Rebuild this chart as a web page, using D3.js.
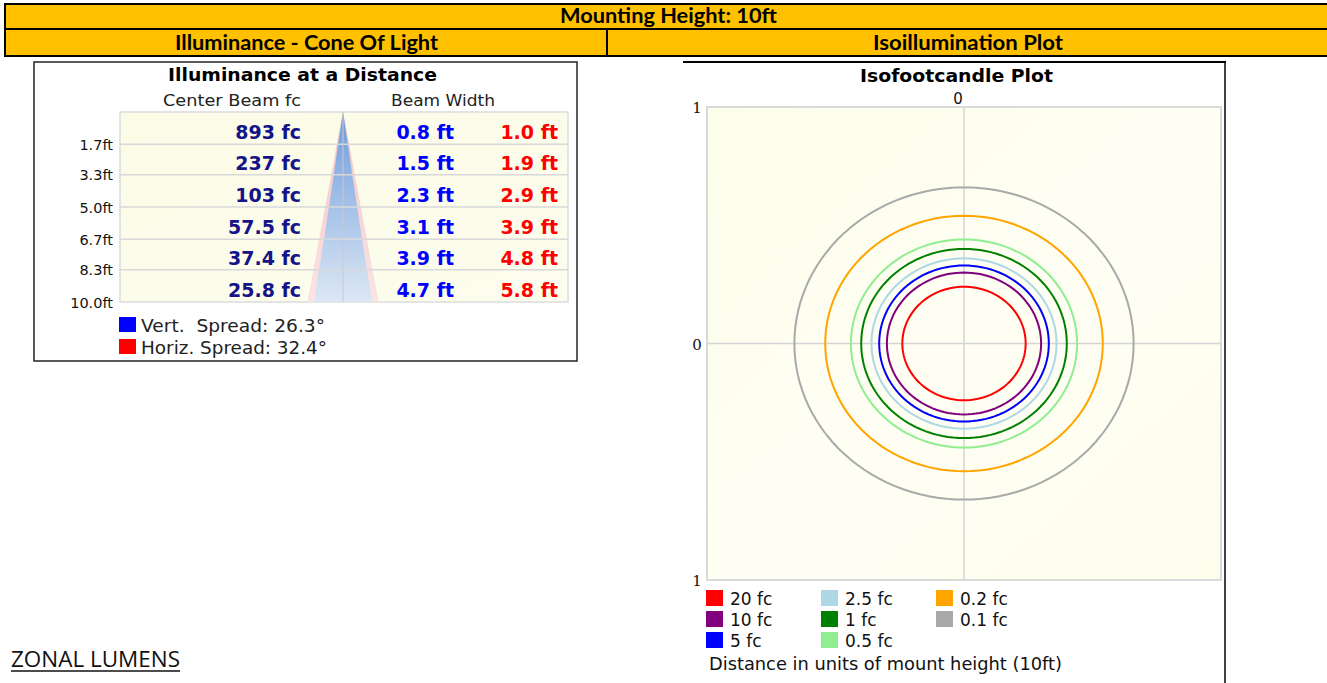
<!DOCTYPE html>
<html><head><meta charset="utf-8">
<script src="https://cdn.jsdelivr.net/npm/d3@7"></script>
<style>
html,body{margin:0;padding:0;background:#fff;overflow:hidden;}
svg{display:block;}
text{white-space:pre;}
</style></head>
<body>
<svg id="c" width="1327" height="683"></svg>
<script>
// ---------- DATA ----------
const headerTitle = "Mounting Height: 10ft";
const sectionTitles = ["Illuminance - Cone Of Light", "Isoillumination Plot"];

const distances = [1.7, 3.3, 5.0, 6.7, 8.3, 10.0];          // ft
const centerBeamFc = [893, 237, 103, 57.5, 37.4, 25.8];      // fc
const vertWidth = [0.8, 1.5, 2.3, 3.1, 3.9, 4.7];            // ft
const horizWidth = [1.0, 1.9, 2.9, 3.9, 4.8, 5.8];           // ft
const spreadLabels = ["Vert.  Spread: 26.3°", "Horiz. Spread: 32.4°"];
const spreadColors = ["#0000ff", "#ff0000"];

const isoLevels = ["20 fc", "10 fc", "5 fc", "2.5 fc", "1 fc", "0.5 fc", "0.2 fc", "0.1 fc"];
const isoRadii  = [0.24, 0.30, 0.33, 0.36, 0.40, 0.44, 0.54, 0.66];   // units of mount height
const isoColors = ["#ff0000", "#800080", "#0000ff", "#add8e6", "#008000", "#90ee90", "#ffa500", "#a9a9a9"];
const isoTicks = [1, 0, -1];

// ---------- DRAW ----------
const svg = d3.select("#c");
const defs = svg.append("defs");
const UI = "'DejaVu Sans', Verdana, sans-serif";
const HDR = "Lato, 'Open Sans', sans-serif";

// Header bars
const gold = "#ffc000";
svg.append("rect").attr("x",5).attr("y",4).attr("width",1330).attr("height",25)
  .attr("fill",gold).attr("stroke","#000").attr("stroke-width",2);
svg.append("rect").attr("x",5).attr("y",29).attr("width",602).attr("height",27)
  .attr("fill",gold).attr("stroke","#000").attr("stroke-width",2);
svg.append("rect").attr("x",607).attr("y",29).attr("width",730).attr("height",27)
  .attr("fill",gold).attr("stroke","#000").attr("stroke-width",2);
svg.append("text").attr("x",560).attr("y",22.5)
  .attr("font-family",HDR).attr("font-weight","bold").attr("font-size",21)
  .attr("textLength",217).attr("lengthAdjust","spacingAndGlyphs").text(headerTitle);
const secPos = [[175,263],[873,190]];
svg.selectAll("text.sec").data(sectionTitles).join("text").attr("class","sec")
  .attr("x",(d,i)=>secPos[i][0]).attr("y",49.5)
  .attr("textLength",(d,i)=>secPos[i][1]).attr("lengthAdjust","spacingAndGlyphs")
  .attr("font-family",HDR).attr("font-weight","bold").attr("font-size",21).text(d=>d);

// ---------- LEFT: Illuminance at a Distance ----------
const L = svg.append("g");
L.append("rect").attr("x",34).attr("y",62).attr("width",543).attr("height",299)
  .attr("fill","#fff").attr("stroke","#222").attr("stroke-width",1.5);
L.append("text").attr("x",168).attr("y",81)
  .attr("textLength",269).attr("lengthAdjust","spacingAndGlyphs")
  .attr("font-family",UI).attr("font-weight","bold").attr("font-size",17.5).text("Illuminance at a Distance");
L.append("text").attr("x",163).attr("y",106)
  .attr("textLength",138).attr("lengthAdjust","spacingAndGlyphs")
  .attr("font-family",UI).attr("font-size",16.5).attr("fill","#222").text("Center Beam fc");
L.append("text").attr("x",391).attr("y",106)
  .attr("textLength",104).attr("lengthAdjust","spacingAndGlyphs")
  .attr("font-family",UI).attr("font-size",16.5).attr("fill","#222").text("Beam Width");

const gx0 = 120, gx1 = 568, coneCx = 343;
const yD = d3.scaleLinear().domain([0, 10]).range([112, 302]);
const wScale = d3.scaleLinear().domain([0, 1]).range([0, 12.3]); // px per ft of half width

const gridGrad = defs.append("linearGradient").attr("id","gridBg").attr("x1",0).attr("y1",0).attr("x2",1).attr("y2",1);
gridGrad.append("stop").attr("offset","0%").attr("stop-color","#fbfbe6");
gridGrad.append("stop").attr("offset","100%").attr("stop-color","#fdfdef");
L.append("rect").attr("x",gx0).attr("y",yD(0)).attr("width",gx1-gx0).attr("height",yD(10)-yD(0))
  .attr("fill","url(#gridBg)").attr("stroke","#dcdcdc").attr("stroke-width",1.5);

// cone
const coneData = [{d:0, v:0, h:0}].concat(distances.map((d,i)=>({d, v:vertWidth[i], h:horizWidth[i]})));
const pinkGrad = defs.append("linearGradient").attr("id","pinkG").attr("x1",0).attr("y1",0).attr("x2",0).attr("y2",1);
pinkGrad.append("stop").attr("offset","0%").attr("stop-color","#f4c4c8");
pinkGrad.append("stop").attr("offset","100%").attr("stop-color","#fbe4e4");
const blueGrad = defs.append("linearGradient").attr("id","blueG").attr("x1",0).attr("y1",0).attr("x2",0).attr("y2",1);
blueGrad.append("stop").attr("offset","0%").attr("stop-color","#6c9cdc");
blueGrad.append("stop").attr("offset","100%").attr("stop-color","#dde7f4");
const coneArea = key => d3.area()
  .y(d=>yD(d.d))
  .x0(d=>coneCx - wScale(d[key]/2))
  .x1(d=>coneCx + wScale(d[key]/2));
L.append("path").datum(coneData).attr("d",coneArea("h")).attr("fill","url(#pinkG)");
L.append("path").datum(coneData).attr("d",coneArea("v")).attr("fill","url(#blueG)");

// grid lines
L.append("line").attr("x1",coneCx).attr("x2",coneCx).attr("y1",yD(0)).attr("y2",yD(10))
  .attr("stroke","#c8c8d0").attr("stroke-width",1);
L.selectAll("line.row").data(distances.slice(0,-1)).join("line").attr("class","row")
  .attr("x1",gx0).attr("x2",gx1).attr("y1",d=>yD(d)).attr("y2",d=>yD(d))
  .attr("stroke","#d8d8d8").attr("stroke-width",1.5);

// tick labels
const ftFmt = d3.format(".1f");
L.selectAll("text.tick").data(distances).join("text").attr("class","tick")
  .attr("x",113).attr("y",d=>yD(d)+5.5).attr("text-anchor","end")
  .attr("font-family",UI).attr("font-size",14.5).attr("fill","#111")
  .text(d=>ftFmt(d)+"ft");

// row values
const fcFmt = d3.format(".3r");
const rowBase = (i)=> yD(distances[i]) - 5;
L.selectAll("text.fc").data(centerBeamFc).join("text").attr("class","fc")
  .attr("x",301).attr("y",(d,i)=>rowBase(i)).attr("text-anchor","end")
  .attr("font-family",UI).attr("font-weight","bold").attr("font-size",19).attr("fill","#141488")
  .text(d=>fcFmt(d)+" fc");
L.selectAll("text.vw").data(vertWidth).join("text").attr("class","vw")
  .attr("x",454).attr("y",(d,i)=>rowBase(i)).attr("text-anchor","end")
  .attr("font-family",UI).attr("font-weight","bold").attr("font-size",19).attr("fill","#0000ff")
  .text(d=>ftFmt(d)+" ft");
L.selectAll("text.hw").data(horizWidth).join("text").attr("class","hw")
  .attr("x",558).attr("y",(d,i)=>rowBase(i)).attr("text-anchor","end")
  .attr("font-family",UI).attr("font-weight","bold").attr("font-size",19).attr("fill","#ff0000")
  .text(d=>ftFmt(d)+" ft");

// spread legend
const sl = L.selectAll("g.sl").data(spreadLabels).join("g").attr("class","sl")
  .attr("transform",(d,i)=>`translate(119,${317 + i*22})`);
sl.append("rect").attr("width",17).attr("height",15).attr("fill",(d,i)=>spreadColors[i]);
sl.append("text").attr("x",22).attr("y",14.5).attr("font-family",UI).attr("font-size",17.5)
  .attr("textLength",(d,i)=> i===0 ? 184 : 186).attr("lengthAdjust","spacingAndGlyphs")
  .attr("fill","#222").text(d=>d);

// ZONAL LUMENS
svg.append("text").attr("x",11).attr("y",667).attr("font-family","'Open Sans', Lato, sans-serif")
  .attr("font-size",21).attr("textLength",169).attr("lengthAdjust","spacingAndGlyphs")
  .attr("fill","#111").text("ZONAL LUMENS");
svg.append("line").attr("x1",11).attr("x2",180).attr("y1",671).attr("y2",671).attr("stroke","#111").attr("stroke-width",1.5);

// ---------- RIGHT: Isofootcandle plot ----------
const R = svg.append("g");
R.append("line").attr("x1",683).attr("x2",1226).attr("y1",62).attr("y2",62).attr("stroke","#000").attr("stroke-width",2);
R.append("line").attr("x1",1225).attr("x2",1225).attr("y1",62).attr("y2",683).attr("stroke","#000").attr("stroke-width",1.5);

const px0 = 707, px1 = 1221, py0 = 107, py1 = 580;
const xI = d3.scaleLinear().domain([-1, 1]).range([px0, px1]);
const yI = d3.scaleLinear().domain([1, -1]).range([py0, py1]);

R.append("text").attr("x",860).attr("y",82)
  .attr("textLength",193).attr("lengthAdjust","spacingAndGlyphs")
  .attr("font-family",UI).attr("font-weight","bold").attr("font-size",18).text("Isofootcandle Plot");

const plotGrad = defs.append("linearGradient").attr("id","plotBg").attr("x1",0).attr("y1",0).attr("x2",1).attr("y2",1);
plotGrad.append("stop").attr("offset","0%").attr("stop-color","#fdfdeb");
plotGrad.append("stop").attr("offset","50%").attr("stop-color","#fefef3");
plotGrad.append("stop").attr("offset","100%").attr("stop-color","#fdfdee");
R.append("rect").attr("x",px0).attr("y",py0).attr("width",px1-px0).attr("height",py1-py0)
  .attr("fill","url(#plotBg)").attr("stroke","#dadada").attr("stroke-width",2);
R.append("line").attr("x1",xI(0)).attr("x2",xI(0)).attr("y1",py0).attr("y2",py1).attr("stroke","#d4d4d4").attr("stroke-width",1.5);
R.append("line").attr("x1",px0).attr("x2",px1).attr("y1",yI(0)).attr("y2",yI(0)).attr("stroke","#d4d4d4").attr("stroke-width",1.5);

// axis labels
R.selectAll("text.yt").data(isoTicks).join("text").attr("class","yt")
  .attr("x",697).attr("y",d=>yI(d)+6).attr("text-anchor","middle")
  .attr("font-family","'DejaVu Serif', serif").attr("font-size",15).attr("fill","#111")
  .text(d=>Math.abs(d));
R.append("text").attr("x",xI(0)-6).attr("y",104).attr("text-anchor","middle")
  .attr("font-family",UI).attr("font-size",15).attr("fill","#111").text("0");

// contours
const angles = d3.range(0, 361, 3).map(a=>a*Math.PI/180);
const ring = d3.line().x(p=>xI(p[0])).y(p=>yI(p[1]));
R.selectAll("path.iso").data(isoRadii.map((r,i)=>({r, c:isoColors[i]})).reverse()).join("path").attr("class","iso")
  .attr("d",d=>ring(angles.map(t=>[d.r*Math.cos(t), d.r*Math.sin(t)])))
  .attr("fill","none").attr("stroke",d=>d.c).attr("stroke-width",2);

// legend
const lg = R.selectAll("g.lg").data(isoLevels).join("g").attr("class","lg")
  .attr("transform",(d,i)=>`translate(${706 + Math.floor(i/3)*115},${590 + (i%3)*21})`);
lg.append("rect").attr("width",17).attr("height",16).attr("fill",(d,i)=>isoColors[i]);
lg.append("text").attr("x",24).attr("y",14.5).attr("font-family",UI).attr("font-size",17).attr("fill","#111").text(d=>d);
R.append("text").attr("x",709).attr("y",670).attr("font-family",UI).attr("font-size",17.5)
  .attr("textLength",353).attr("lengthAdjust","spacingAndGlyphs").attr("fill","#111")
  .text("Distance in units of mount height (10ft)");
</script>
</body></html>
